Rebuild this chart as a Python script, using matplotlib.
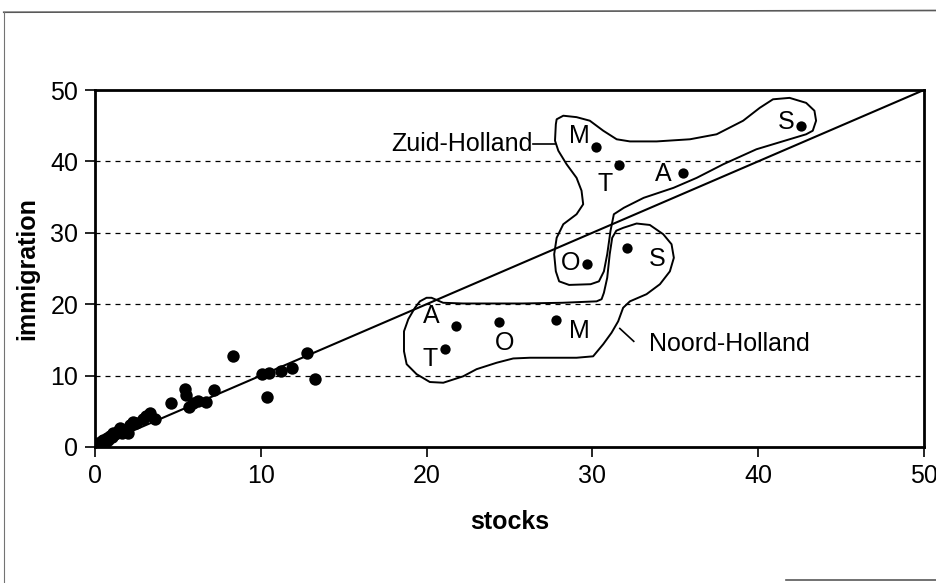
import matplotlib
matplotlib.use("Agg")
import matplotlib.pyplot as plt
from matplotlib.patches import Polygon
from matplotlib.lines import Line2D

plt.rcParams["font.family"] = ["Liberation Sans", "DejaVu Sans"]

# ---------------------------------------------------------------------
# data
# ---------------------------------------------------------------------
# unlabelled regions
stocks_other = [0.1, 0.2, 0.3, 0.4, 0.5, 0.6, 0.7, 0.8, 0.9, 1.0, 1.1, 1.2,
                1.4, 1.5, 1.6, 1.8, 2.0, 2.1, 2.3, 2.5, 2.9, 3.1, 3.3, 3.6,
                4.6, 5.4, 5.5, 5.7, 5.9, 6.2, 6.7, 7.2, 8.3, 10.1, 10.5,
                10.4, 11.2, 11.9, 12.8, 13.3]
immig_other = [0.2, 0.5, 0.3, 0.8, 1.0, 0.6, 1.3, 1.0, 1.6, 1.4, 2.0, 1.8,
               2.2, 2.6, 1.9, 2.3, 2.0, 3.1, 3.5, 3.4, 3.9, 4.4, 4.8, 3.9,
               6.2, 8.1, 7.3, 5.6, 6.1, 6.4, 6.3, 8.0, 12.7, 10.2, 10.4,
               7.0, 10.6, 11.1, 13.2, 9.5]

# Zuid-Holland cities (M, T, A, S, O)
zh_names = ["M", "T", "A", "S", "O"]
zh_stocks = [30.2, 31.6, 35.5, 42.6, 29.7]
zh_immig = [42.0, 39.5, 38.4, 45.0, 25.6]
zh_text_xy = [(29.25, 43.6), (30.76, 36.8), (34.3, 38.2), (41.7, 45.5), (28.7, 25.8)]

# Noord-Holland cities (S, A, O, M, T)
nh_names = ["S", "A", "O", "M", "T"]
nh_stocks = [32.1, 21.8, 24.4, 27.8, 21.1]
nh_immig = [27.9, 16.9, 17.5, 17.8, 13.7]
nh_text_xy = [(33.9, 26.3), (20.3, 18.3), (24.7, 14.6), (29.25, 16.2), (20.2, 12.3)]

# hand-drawn outlines around the two provinces
zh_outline = [
    (27.85, 45.9), (28.25, 46.4), (29.05, 46.2), (29.85, 45.7), (30.66, 44.3),
    (31.47, 43.1), (32.27, 42.8), (33.88, 42.8), (35.89, 43.1), (37.5, 43.8),
    (39.1, 45.7), (40.1, 47.5), (40.9, 48.7), (41.9, 48.9), (42.9, 48.2),
    (43.4, 47.1), (43.5, 45.7), (43.3, 44.3), (42.9, 43.8), (41.9, 43.1),
    (39.9, 41.7), (37.9, 39.6), (36.3, 37.7), (34.9, 36.3), (33.1, 34.9),
    (31.9, 33.5), (31.3, 32.6), (31.1, 30.3), (30.9, 27.0), (30.7, 24.6),
    (30.4, 23.2), (29.9, 22.8), (28.6, 22.7), (28.0, 23.2), (27.8, 24.6),
    (27.7, 27.0), (27.85, 29.3), (28.25, 31.2), (29.05, 32.6), (29.45, 34.0),
    (29.35, 35.9), (29.05, 37.7), (28.45, 39.6), (27.95, 41.5), (27.75, 42.9),
    (27.8, 45.2),
]
nh_outline = [
    (31.87, 30.7), (32.67, 31.3), (33.47, 31.1), (34.28, 29.8), (34.78, 28.4),
    (34.92, 26.5), (34.68, 24.6), (34.08, 22.8), (33.27, 21.4), (32.27, 20.4),
    (31.86, 19.5), (31.56, 17.6), (31.16, 16.0), (30.66, 14.4), (30.05, 12.7),
    (29.05, 12.5), (26.24, 12.5), (25.23, 12.4), (24.23, 11.8), (23.02, 10.9),
    (22.21, 9.9), (21.01, 9.0), (20.2, 9.1), (19.4, 10.2), (18.8, 11.6),
    (18.64, 13.4), (18.64, 16.2), (18.9, 17.9), (19.3, 19.5), (19.6, 20.4),
    (20.0, 20.9), (20.3, 20.9), (21.0, 20.2), (22.2, 20.1), (25.8, 20.1),
    (28.2, 20.2), (30.26, 20.4), (30.56, 20.7), (30.7, 21.6), (30.9, 23.7),
    (31.05, 27.0), (31.2, 29.3), (31.45, 30.3),
]

x_ticks = [0, 10, 20, 30, 40, 50]
y_ticks = [0, 10, 20, 30, 40, 50]
grid_levels = [10, 20, 30, 40]

FS = 18

# ---------------------------------------------------------------------
# figure
# ---------------------------------------------------------------------
fig = plt.figure(figsize=(9.36, 5.83), dpi=100)
ax = fig.add_axes([0.1015, 0.2333, 0.8855, 0.6123])

for g in grid_levels:
    ax.axhline(g, color="black", lw=0.9, ls=(0, (4, 4)), zorder=1)

ax.plot([0, 50], [0, 50], color="black", lw=1.5, zorder=2)

ax.scatter(stocks_other, immig_other, s=80, color="black", zorder=3, linewidths=0)
ax.scatter(zh_stocks, zh_immig, s=55, color="black", zorder=3, linewidths=0)
ax.scatter(nh_stocks, nh_immig, s=55, color="black", zorder=3, linewidths=0)

for name, (tx, ty) in zip(zh_names, zh_text_xy):
    ax.text(tx, ty, name, fontsize=FS, ha="center", va="center")
for name, (tx, ty) in zip(nh_names, nh_text_xy):
    ax.text(tx, ty, name, fontsize=FS, ha="center", va="center")

ax.add_patch(Polygon(zh_outline, closed=True, fill=False, ec="black", lw=1.4,
                     joinstyle="round", zorder=2))
ax.add_patch(Polygon(nh_outline, closed=True, fill=False, ec="black", lw=1.4,
                     joinstyle="round", zorder=2))

# province labels with leader lines
ax.plot([26.4, 27.75], [42.4, 42.4], color="black", lw=1.2)
ax.text(26.4, 42.4, "Zuid-Holland", fontsize=FS, ha="right", va="center")
ax.plot([31.66, 32.5], [16.6, 14.8], color="black", lw=1.2)
ax.text(33.4, 14.4, "Noord-Holland", fontsize=FS, ha="left", va="center")

ax.set_xlim(0, 50)
ax.set_ylim(0, 50)
ax.set_xticks(x_ticks)
ax.set_yticks(y_ticks)
ax.tick_params(axis="both", direction="out", length=7, width=1.2,
               labelsize=FS, pad=5)
for side in ["top", "bottom", "left", "right"]:
    ax.spines[side].set_linewidth(2)

ax.set_xlabel("stocks", fontsize=FS, fontweight="bold", labelpad=16)
ax.set_ylabel("immigration", fontsize=FS, fontweight="bold", labelpad=8)

# scanned page frame
fig.add_artist(Line2D([0.004, 1.0], [0.979, 0.982], color="0.35", lw=1.2))
fig.add_artist(Line2D([0.004, 0.004], [0.0, 0.979], color="0.45", lw=0.8))
fig.add_artist(Line2D([0.84, 1.0], [0.006, 0.006], color="0.35", lw=1.2))

fig.savefig("out.png", dpi=100)
plt.close(fig)
